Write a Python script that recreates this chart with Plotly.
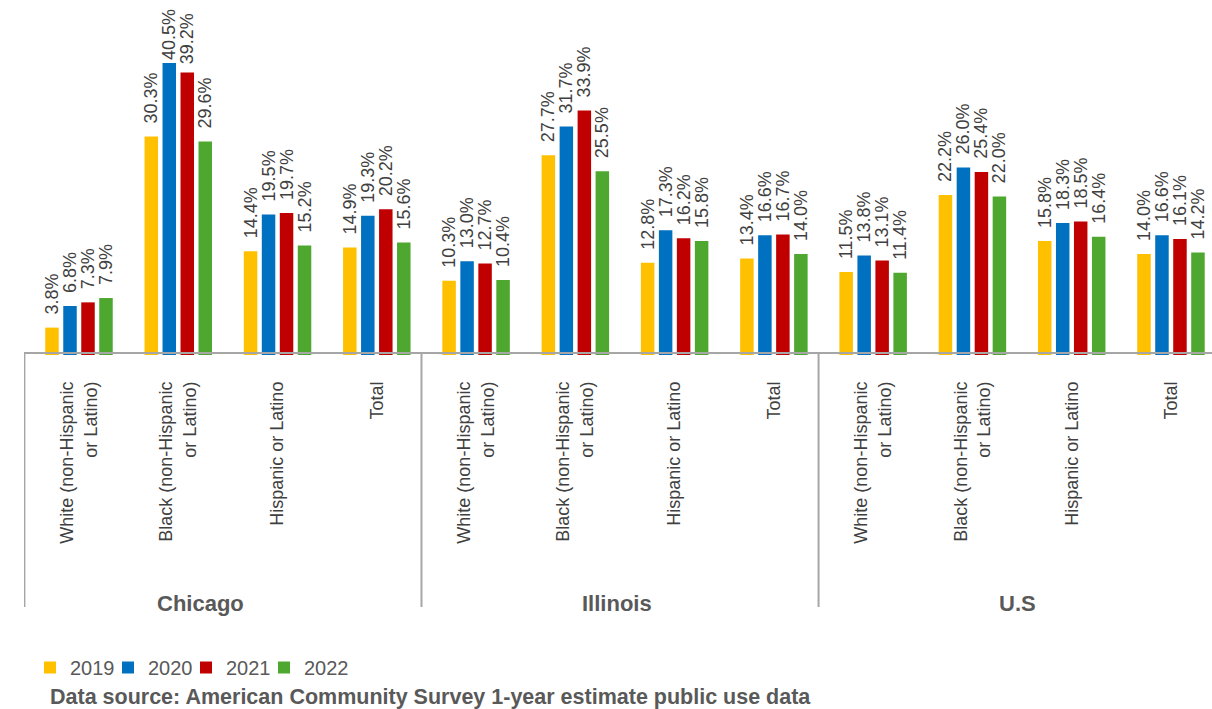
import plotly.graph_objects as go

# Share of population by race/ethnicity, 2019-2022 (percent)
regions = ["Chicago", "Illinois", "U.S"]
categories = ["White (non-Hispanic<br>or Latino)", "Black (non-Hispanic<br>or Latino)",
              "Hispanic or Latino", "Total"]
years = ["2019", "2020", "2021", "2022"]

values_2019 = [3.8, 30.3, 14.4, 14.9, 10.3, 27.7, 12.8, 13.4, 11.5, 22.2, 15.8, 14.0]
values_2020 = [6.8, 40.5, 19.5, 19.3, 13.0, 31.7, 17.3, 16.6, 13.8, 26.0, 18.3, 16.6]
values_2021 = [7.3, 39.2, 19.7, 20.2, 12.7, 33.9, 16.2, 16.7, 13.1, 25.4, 18.5, 16.1]
values_2022 = [7.9, 29.6, 15.2, 15.6, 10.4, 25.5, 15.8, 14.0, 11.4, 22.0, 16.4, 14.2]

series = [values_2019, values_2020, values_2021, values_2022]
colors = ["#FFC000", "#0070C0", "#C00000", "#4EA72E"]

W, H = 1212, 709
M_L, M_B = 24, 354
plot_h = H - M_B
Y_MAX = 49.24
px_per_unit = plot_h / Y_MAX

FONT = "Liberation Sans, Arial, sans-serif"
LABEL_SIZE = 18
LABEL_LEN = 2.835 * LABEL_SIZE  # approx. rendered length of "xx.x%"
NBSP = "\u00a0"

n_cat = len(categories)
x_pos = [r * n_cat + c for r in range(len(regions)) for c in range(n_cat)]
tick_text = [c for _ in regions for c in categories]


def label(v):
    # leave a small gap above each bar, shrinking it where the label would hit the top
    room = (Y_MAX - v) * px_per_unit - LABEL_LEN - 12
    n = max(0, min(2, int(room // 5)))
    return NBSP * n + f"{v:.1f}%"


fig = go.Figure()
for name, vals, col in zip(years, series, colors):
    fig.add_trace(go.Bar(
        x=x_pos, y=vals, name=name,
        marker=dict(color=col, line=dict(width=0)),
        text=[label(v) for v in vals],
        texttemplate="%{text}",
        textposition="outside",
        textangle=-90,
        constraintext="none",
        cliponaxis=False,
        textfont=dict(family=FONT, size=LABEL_SIZE, color="#404040"),
        hoverinfo="skip",
    ))

# blank trailing legend entry so the last year label is not clipped by the legend box
fig.add_trace(go.Scatter(x=[None], y=[None], mode="markers", name=NBSP,
                         marker=dict(color="rgba(0,0,0,0)", size=1), hoverinfo="skip"))

shapes = []
line_col = "#A6A6A6"
# baseline
shapes.append(dict(type="line", xref="paper", yref="paper", x0=0, x1=1, y0=2 / plot_h, y1=2 / plot_h,
                   line=dict(color=line_col, width=2), layer="above"))
# region separators below the axis
sep_bottom = -(607 - plot_h) / plot_h
for r in range(len(regions)):
    xs = r * n_cat - 0.5 - 0.05
    shapes.append(dict(type="line", xref="x", yref="paper", x0=xs, x1=xs, y0=2 / plot_h, y1=sep_bottom,
                       line=dict(color=line_col, width=2), layer="above"))

annotations = []
region_x = [1.22, 5.42, 9.45]
for name, xr in zip(regions, region_x):
    annotations.append(dict(x=xr, y=-(603 - plot_h) / plot_h, xref="x", yref="paper",
                            text=f"<b>{name}</b>", showarrow=False, xanchor="center", yanchor="middle",
                            font=dict(family=FONT, size=22, color="#595959")))
annotations.append(dict(x=(48 - M_L) / (W - M_L), y=-(697 - plot_h) / plot_h, xref="paper", yref="paper",
                        text="<b>Data source: American Community Survey 1-year estimate public use data</b>",
                        showarrow=False, xanchor="left", yanchor="middle",
                        font=dict(family=FONT, size=21.5, color="#595959")))

step = 99.27
fig.update_layout(
    width=W, height=H,
    margin=dict(l=M_L, r=0, t=0, b=M_B, pad=0),
    paper_bgcolor="white", plot_bgcolor="white",
    barmode="group", bargap=0.275, bargroupgap=0.25,
    showlegend=True,
    legend=dict(orientation="h", xref="container", yref="container",
                x=30 / W, y=1 - 667.5 / H, xanchor="left", yanchor="middle",
                entrywidth=33, traceorder="normal", bgcolor="rgba(0,0,0,0)",
                font=dict(family=FONT, size=20, color="#595959")),
    xaxis=dict(
        range=[-55 / step, (W - M_L - 55) / step],
        tickmode="array", tickvals=x_pos, ticktext=tick_text,
        tickangle=-90, ticks="", showline=False, showgrid=False, zeroline=False,
        ticklabelstandoff=22,
        tickfont=dict(family=FONT, size=18, color="#404040"),
        fixedrange=True,
    ),
    yaxis=dict(range=[0, Y_MAX], visible=False, showgrid=False, zeroline=False, fixedrange=True),
    shapes=shapes,
    annotations=annotations,
)

fig.write_html("out.html")
